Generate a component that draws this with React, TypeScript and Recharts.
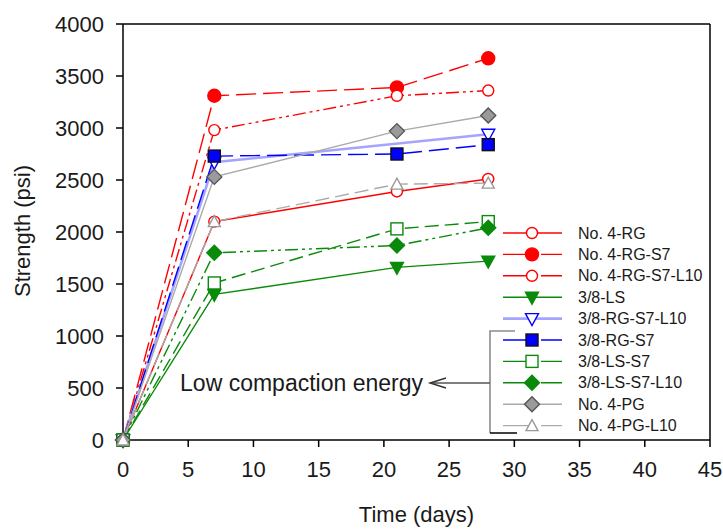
import React from "react";
import { LineChart, Line, XAxis, YAxis, ReferenceLine } from "recharts";

// curing time (days)
const days = [0, 7, 21, 28];

// strength (psi) per mix
const rg = [0, 2100, 2390, 2510];
const rgS7 = [0, 3310, 3390, 3670];
const rgS7L10 = [0, 2980, 3310, 3360];
const ls = [0, 1400, 1660, 1720];
const rg38S7L10 = [0, 2670, null, 2940];
const rg38S7 = [0, 2730, 2750, 2840];
const lsS7 = [0, 1510, 2030, 2100];
const lsS7L10 = [0, 1800, 1870, 2040];
const pg = [0, 2530, 2970, 3120];
const pgL10 = [0, 2100, 2460, 2470];

const xTicks = [0, 5, 10, 15, 20, 25, 30, 35, 40, 45];
const yTicks = [0, 500, 1000, 1500, 2000, 2500, 3000, 3500, 4000];

type Shape = "circle" | "triDown" | "triUp" | "square" | "diamond";

interface Series {
  key: string;
  name: string;
  values: (number | null)[];
  color: string;
  width: number;
  dash?: string;
  shape: Shape;
  fill: string;
  markStroke: string;
}

const RED = "#ff0000";
const GREEN = "#0a8a0a";
const BLUE = "#0000ff";
const LBLUE = "#a4a4ff";
const GRAY = "#aaaaaa";
const DDOT = "13 4 3 4 3 4";

const series: Series[] = [
  { key: "rg", name: "No. 4-RG", values: rg, color: RED, width: 1.4, shape: "circle", fill: "#fff", markStroke: RED },
  { key: "rgS7", name: "No. 4-RG-S7", values: rgS7, color: RED, width: 1.4, dash: "20 7", shape: "circle", fill: RED, markStroke: RED },
  { key: "rgS7L10", name: "No. 4-RG-S7-L10", values: rgS7L10, color: RED, width: 1.4, dash: DDOT, shape: "circle", fill: "#fff", markStroke: RED },
  { key: "ls", name: "3/8-LS", values: ls, color: GREEN, width: 1.4, shape: "triDown", fill: GREEN, markStroke: GREEN },
  { key: "rg38S7L10", name: "3/8-RG-S7-L10", values: rg38S7L10, color: LBLUE, width: 2.6, shape: "triDown", fill: "#fff", markStroke: BLUE },
  { key: "rg38S7", name: "3/8-RG-S7", values: rg38S7, color: BLUE, width: 1.4, dash: "20 7", shape: "square", fill: BLUE, markStroke: "#111" },
  { key: "lsS7", name: "3/8-LS-S7", values: lsS7, color: GREEN, width: 1.4, dash: "14 6", shape: "square", fill: "#fff", markStroke: GREEN },
  { key: "lsS7L10", name: "3/8-LS-S7-L10", values: lsS7L10, color: GREEN, width: 1.4, dash: DDOT, shape: "diamond", fill: GREEN, markStroke: GREEN },
  { key: "pg", name: "No. 4-PG", values: pg, color: GRAY, width: 1.4, shape: "diamond", fill: "#9a9a9a", markStroke: "#555" },
  { key: "pgL10", name: "No. 4-PG-L10", values: pgL10, color: GRAY, width: 1.4, dash: "14 6", shape: "triUp", fill: "#fff", markStroke: "#999" },
];

const data = days.map((d, i) => {
  const row: Record<string, number | null> = { day: d };
  series.forEach((s) => (row[s.key] = s.values[i]));
  return row;
});

const Marker = ({ x, y, s }: { x: number; y: number; s: Series }) => {
  const p = { fill: s.fill, stroke: s.markStroke, strokeWidth: 1.4 };
  switch (s.shape) {
    case "circle":
      return <circle cx={x} cy={y} r={s.fill === "#fff" ? 5.5 : 6.5} {...p} />;
    case "triDown":
      return <polygon points={`${x - 6.5},${y - 5} ${x + 6.5},${y - 5} ${x},${y + 7}`} {...p} />;
    case "triUp":
      return <polygon points={`${x - 6},${y + 5} ${x + 6},${y + 5} ${x},${y - 6}`} {...p} />;
    case "square":
      return <rect x={x - 6} y={y - 6} width={12} height={12} {...p} />;
    case "diamond":
      return <polygon points={`${x},${y - 7.5} ${x + 7.5},${y} ${x},${y + 7.5} ${x - 7.5},${y}`} {...p} />;
  }
  return null;
};

const makeDot = (s: Series) => (props: any) => {
  const { cx, cy, index } = props;
  if (cx == null || cy == null || props.value == null) return <g key={`${s.key}-${index}`} />;
  return (
    <g key={`${s.key}-${index}`}>
      <Marker x={cx} y={cy} s={s} />
    </g>
  );
};

const FONT = '"Liberation Sans", Arial, sans-serif';
const legendTop = 233;
const legendStep = 21.4;

export default function App() {
  return (
    <div style={{ position: "absolute", left: 0, top: 0, width: 723, height: 529, fontFamily: FONT, background: "#fff" }}>
      <LineChart width={723} height={529} data={data} margin={{ top: 24, right: 13, left: 0, bottom: 39 }}>
        <XAxis
          dataKey="day"
          type="number"
          domain={[0, 45]}
          ticks={xTicks}
          interval={0}
          tickSize={7}
          tickMargin={14}
          height={50}
          stroke="#000"
          strokeWidth={1.5}
          tick={{ fill: "#1a1a1a", fontSize: 22 }}
          label={{ value: "Time (days)", position: "bottom", offset: 16, fill: "#1a1a1a", fontSize: 22 }}
        />
        <YAxis
          type="number"
          domain={[0, 4000]}
          ticks={yTicks}
          interval={0}
          width={123}
          tickSize={7}
          tickMargin={12}
          stroke="#000"
          strokeWidth={1.5}
          tick={{ fill: "#1a1a1a", fontSize: 22 }}
        />
        <ReferenceLine y={4000} stroke="#000" strokeWidth={1.5} />
        <ReferenceLine x={45} stroke="#000" strokeWidth={1.5} />
        {series.map((s) => (
          <Line
            key={s.key}
            dataKey={s.key}
            name={s.name}
            type="linear"
            stroke={s.color}
            strokeWidth={s.width}
            strokeDasharray={s.dash}
            connectNulls
            dot={makeDot(s)}
            activeDot={false}
            isAnimationActive={false}
          />
        ))}
      </LineChart>
      <svg width={723} height={529} style={{ position: "absolute", left: 0, top: 0, pointerEvents: "none" }}>
        <text x={30} y={231} transform="rotate(-90 30 231)" textAnchor="middle" fontSize={22} fill="#1a1a1a">
          Strength (psi)
        </text>
        {series.map((s, i) => {
          const y = legendTop + i * legendStep;
          return (
            <g key={s.key}>
              <line x1={503} x2={562} y1={y} y2={y} stroke={s.color} strokeWidth={s.width} strokeDasharray={s.dash ? "30 8 22" : undefined} />
              <Marker x={532} y={y} s={s} />
              <text x={578} y={y + 5.5} fontSize={16} fill="#1a1a1a">
                {s.name}
              </text>
            </g>
          );
        })}
        <polyline points="515,331 490,331 490,433" fill="none" stroke="#8c8c8c" strokeWidth={1.6} />
        <line x1={490} x2={517} y1={433} y2={433} stroke="#111" strokeWidth={1.6} />
        <line x1={490} x2={430} y1={383} y2={383} stroke="#555" strokeWidth={1.4} />
        <polyline points="446,378 430,383 446,388" fill="none" stroke="#333" strokeWidth={1.4} />
        <text x={423} y={391} textAnchor="end" fontSize={23} fill="#1a1a1a">
          Low compaction energy
        </text>
      </svg>
    </div>
  );
}
